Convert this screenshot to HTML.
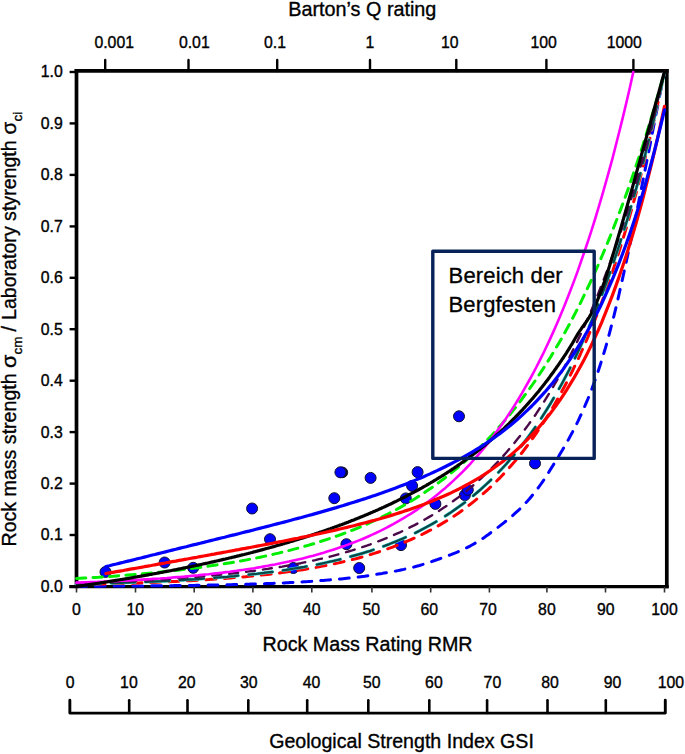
<!DOCTYPE html>
<html><head><meta charset="utf-8"><title>Rock mass strength chart</title><style>
html,body{margin:0;padding:0;background:#fff;}
body{width:685px;height:754px;overflow:hidden;}
svg{display:block;}
text{font-family:"Liberation Sans",sans-serif;fill:#000;stroke:#000;stroke-width:0.35px;}
.t15{font-size:15.8px;}
</style></head><body>
<svg width="685" height="754" viewBox="0 0 685 754">
<text x="288.3" y="15.5" font-size="19.8">Barton’s Q rating</text>
<text class="t15" transform="translate(114.2,47.8) scale(1,1.06)" text-anchor="middle">0.001</text>
<text class="t15" transform="translate(194.3,47.8) scale(1,1.06)" text-anchor="middle">0.01</text>
<text class="t15" transform="translate(275.0,47.8) scale(1,1.06)" text-anchor="middle">0.1</text>
<text class="t15" transform="translate(370.0,47.8) scale(1,1.06)" text-anchor="middle">1</text>
<text class="t15" transform="translate(449.7,47.8) scale(1,1.06)" text-anchor="middle">10</text>
<text class="t15" transform="translate(543.7,47.8) scale(1,1.06)" text-anchor="middle">100</text>
<text class="t15" transform="translate(624.3,47.8) scale(1,1.06)" text-anchor="middle">1000</text>
<text class="t15" transform="translate(62.8,591.9) scale(1,1.06)" text-anchor="end">0.0</text>
<text class="t15" transform="translate(62.8,540.4) scale(1,1.06)" text-anchor="end">0.1</text>
<text class="t15" transform="translate(62.8,489.0) scale(1,1.06)" text-anchor="end">0.2</text>
<text class="t15" transform="translate(62.8,437.6) scale(1,1.06)" text-anchor="end">0.3</text>
<text class="t15" transform="translate(62.8,386.1) scale(1,1.06)" text-anchor="end">0.4</text>
<text class="t15" transform="translate(62.8,334.7) scale(1,1.06)" text-anchor="end">0.5</text>
<text class="t15" transform="translate(62.8,283.2) scale(1,1.06)" text-anchor="end">0.6</text>
<text class="t15" transform="translate(62.8,231.8) scale(1,1.06)" text-anchor="end">0.7</text>
<text class="t15" transform="translate(62.8,180.3) scale(1,1.06)" text-anchor="end">0.8</text>
<text class="t15" transform="translate(62.8,128.8) scale(1,1.06)" text-anchor="end">0.9</text>
<text class="t15" transform="translate(62.8,77.4) scale(1,1.06)" text-anchor="end">1.0</text>
<text class="t15" transform="translate(76.5,614.7) scale(1,1.06)" text-anchor="middle">0</text>
<text class="t15" transform="translate(135.3,614.7) scale(1,1.06)" text-anchor="middle">10</text>
<text class="t15" transform="translate(194.1,614.7) scale(1,1.06)" text-anchor="middle">20</text>
<text class="t15" transform="translate(252.9,614.7) scale(1,1.06)" text-anchor="middle">30</text>
<text class="t15" transform="translate(311.7,614.7) scale(1,1.06)" text-anchor="middle">40</text>
<text class="t15" transform="translate(371.3,614.7) scale(1,1.06)" text-anchor="middle">50</text>
<text class="t15" transform="translate(429.3,614.7) scale(1,1.06)" text-anchor="middle">60</text>
<text class="t15" transform="translate(488.1,614.7) scale(1,1.06)" text-anchor="middle">70</text>
<text class="t15" transform="translate(546.9,614.7) scale(1,1.06)" text-anchor="middle">80</text>
<text class="t15" transform="translate(605.7,614.7) scale(1,1.06)" text-anchor="middle">90</text>
<text class="t15" transform="translate(664.5,614.7) scale(1,1.06)" text-anchor="middle">100</text>
<text x="367.5" y="651.3" font-size="19.7" text-anchor="middle">Rock Mass Rating RMR</text>
<text class="t15" transform="translate(70.1,688.0) scale(1,1.06)" text-anchor="middle">0</text>
<text class="t15" transform="translate(128.9,688.0) scale(1,1.06)" text-anchor="middle">10</text>
<text class="t15" transform="translate(186.8,688.0) scale(1,1.06)" text-anchor="middle">20</text>
<text class="t15" transform="translate(248.8,688.0) scale(1,1.06)" text-anchor="middle">30</text>
<text class="t15" transform="translate(311.6,688.0) scale(1,1.06)" text-anchor="middle">40</text>
<text class="t15" transform="translate(371.7,688.0) scale(1,1.06)" text-anchor="middle">50</text>
<text class="t15" transform="translate(433.9,688.0) scale(1,1.06)" text-anchor="middle">60</text>
<text class="t15" transform="translate(492.4,688.0) scale(1,1.06)" text-anchor="middle">70</text>
<text class="t15" transform="translate(550.0,688.0) scale(1,1.06)" text-anchor="middle">80</text>
<text class="t15" transform="translate(612.5,688.0) scale(1,1.06)" text-anchor="middle">90</text>
<text class="t15" transform="translate(670.8,688.0) scale(1,1.06)" text-anchor="middle">100</text>
<text x="401.5" y="747.6" font-size="19.6" text-anchor="middle">Geological Strength Index GSI</text>
<text transform="translate(16,546.5) rotate(-90) translate(0,0)" font-size="19.6">Rock mass strength</text>
<text transform="translate(16,546.5) rotate(-90) translate(178.5,0) scale(1.1,1)" font-size="19.6">σ</text>
<text transform="translate(16,546.5) rotate(-90) translate(192,6)" font-size="13.5">cm</text>
<text transform="translate(16,546.5) rotate(-90) translate(215,0)" font-size="19.6">/</text>
<text transform="translate(16,546.5) rotate(-90) translate(226.5,0)" font-size="19.6">Laboratory styrength</text>
<text transform="translate(16,546.5) rotate(-90) translate(412,0) scale(1.05,1)" font-size="19.6">σ</text>
<text transform="translate(16,546.5) rotate(-90) translate(425.1,6)" font-size="13.5">ci</text>
<g stroke="#000" fill="none">
<path d="M76.5,69 V588.3" stroke-width="3.7"/>
<path d="M74.65,70.8 H668.65" stroke-width="3.8"/>
<path d="M666.8,69 V588.3" stroke-width="3.7"/>
<path d="M69.3,586.6 H668.65" stroke-width="3.4"/>
<path d="M69.6,586.5 H77" stroke-width="2.4"/>
<path d="M69.6,535.0 H77" stroke-width="2.4"/>
<path d="M69.6,483.6 H77" stroke-width="2.4"/>
<path d="M69.6,432.1 H77" stroke-width="2.4"/>
<path d="M69.6,380.7 H77" stroke-width="2.4"/>
<path d="M69.6,329.2 H77" stroke-width="2.4"/>
<path d="M69.6,277.8 H77" stroke-width="2.4"/>
<path d="M69.6,226.4 H77" stroke-width="2.4"/>
<path d="M69.6,174.9 H77" stroke-width="2.4"/>
<path d="M69.6,123.4 H77" stroke-width="2.4"/>
<path d="M69.6,72.0 H77" stroke-width="2.4"/>
<path d="M105.2,60 V71" stroke-width="2.4" stroke-linecap="round"/>
<path d="M188.5,60 V71" stroke-width="2.4" stroke-linecap="round"/>
<path d="M277.2,60 V71" stroke-width="2.4" stroke-linecap="round"/>
<path d="M370.0,60 V71" stroke-width="2.4" stroke-linecap="round"/>
<path d="M456.3,60 V71" stroke-width="2.4" stroke-linecap="round"/>
<path d="M546.4,60 V71" stroke-width="2.4" stroke-linecap="round"/>
<path d="M633.4,60 V71" stroke-width="2.4" stroke-linecap="round"/>
<path d="M76.5,587 V592.5" stroke-width="1.6" stroke="#333"/>
<path d="M135.5,587 V592.5" stroke-width="1.6" stroke="#333"/>
<path d="M194.2,587 V592.5" stroke-width="1.6" stroke="#333"/>
<path d="M252.9,587 V592.5" stroke-width="1.6" stroke="#333"/>
<path d="M311.8,587 V592.5" stroke-width="1.6" stroke="#333"/>
<path d="M371.9,587 V592.5" stroke-width="1.6" stroke="#333"/>
<path d="M430.7,587 V592.5" stroke-width="1.6" stroke="#333"/>
<path d="M489.4,587 V592.5" stroke-width="1.6" stroke="#333"/>
<path d="M546.9,587 V592.5" stroke-width="1.6" stroke="#333"/>
<path d="M605.5,587 V592.5" stroke-width="1.6" stroke="#333"/>
<path d="M664.5,587 V592.5" stroke-width="1.6" stroke="#333"/>
<path d="M69.85,700.2 V713.1 H665.3 V700.2" stroke-width="2.9" stroke-linejoin="round" stroke-linecap="round"/>
<path d="M129.2,700.2 V713" stroke-width="2.6" stroke-linecap="round"/>
<path d="M187.5,700.2 V713" stroke-width="2.6" stroke-linecap="round"/>
<path d="M248.3,700.2 V713" stroke-width="2.6" stroke-linecap="round"/>
<path d="M307.2,700.2 V713" stroke-width="2.6" stroke-linecap="round"/>
<path d="M368.3,700.2 V713" stroke-width="2.6" stroke-linecap="round"/>
<path d="M429.3,700.2 V713" stroke-width="2.6" stroke-linecap="round"/>
<path d="M487.1,700.2 V713" stroke-width="2.6" stroke-linecap="round"/>
<path d="M547.5,700.2 V713" stroke-width="2.6" stroke-linecap="round"/>
<path d="M605.8,700.2 V713" stroke-width="2.6" stroke-linecap="round"/>
</g>
<g fill="#0000ff" stroke="#101030" stroke-width="1">
<circle cx="342.4" cy="472.4" r="5.3" fill="#101020"/>
<circle cx="340.4" cy="472.3" r="5.5"/>
<circle cx="105.5" cy="571.9" r="5.5"/>
<circle cx="164.6" cy="562.5" r="5.5"/>
<circle cx="193.2" cy="567.8" r="5.5"/>
<circle cx="252.1" cy="508.5" r="5.5"/>
<circle cx="270" cy="539.2" r="5.5"/>
<circle cx="293.3" cy="568" r="5.5"/>
<circle cx="334.3" cy="498.2" r="5.5"/>
<circle cx="346.4" cy="544.2" r="5.5"/>
<circle cx="359.2" cy="568" r="5.5"/>
<circle cx="370.6" cy="477.9" r="5.5"/>
<circle cx="401" cy="545.1" r="5.5"/>
<circle cx="405.8" cy="498.4" r="5.5"/>
<circle cx="412.1" cy="485.9" r="5.5"/>
<circle cx="417.6" cy="472.1" r="5.5"/>
<circle cx="435.4" cy="503.9" r="5.5"/>
<circle cx="459" cy="416.3" r="5.5"/>
<circle cx="464.9" cy="495.1" r="5.5"/>
<circle cx="467.8" cy="489.8" r="5.5"/>
<circle cx="535" cy="463.4" r="5.5"/>
</g>
<g fill="none" stroke-linejoin="round" stroke-linecap="round">
<path d="M76.5,586.3 L77.5,586.3 L78.7,586.2 L80.0,586.2 L81.4,586.2 L82.9,586.2 L84.5,586.2 L86.2,586.2 L88.0,586.2 L89.8,586.2 L91.7,586.2 L93.7,586.2 L95.8,586.2 L97.9,586.2 L100.0,586.2 L102.2,586.2 L104.4,586.1 L106.7,586.1 L109.0,586.1 L111.2,586.1 L113.5,586.1 L115.8,586.1 L118.1,586.1 L120.4,586.1 L122.6,586.1 L124.8,586.0 L127.0,586.0 L129.2,586.0 L131.3,586.0 L133.3,586.0 L135.3,586.0 L137.3,586.0 L139.2,585.9 L141.2,585.9 L143.1,585.9 L145.1,585.9 L147.1,585.9 L149.0,585.9 L151.0,585.9 L152.9,585.8 L154.9,585.8 L156.9,585.8 L158.8,585.8 L160.8,585.8 L162.7,585.8 L164.7,585.7 L166.7,585.7 L168.6,585.7 L170.6,585.7 L172.5,585.7 L174.5,585.6 L176.5,585.6 L178.4,585.6 L180.4,585.6 L182.3,585.5 L184.3,585.5 L186.3,585.5 L188.2,585.5 L190.2,585.4 L192.1,585.4 L194.1,585.4 L196.1,585.3 L198.0,585.3 L200.0,585.3 L201.9,585.2 L203.9,585.2 L205.9,585.2 L207.8,585.1 L209.8,585.1 L211.7,585.1 L213.7,585.0 L215.7,585.0 L217.6,585.0 L219.6,584.9 L221.5,584.9 L223.5,584.9 L225.5,584.8 L227.4,584.8 L229.4,584.7 L231.3,584.7 L233.3,584.6 L235.3,584.6 L237.2,584.5 L239.2,584.5 L241.1,584.4 L243.1,584.4 L245.1,584.3 L247.0,584.3 L249.0,584.2 L250.9,584.1 L252.9,584.1 L254.9,584.0 L256.8,583.9 L258.8,583.9 L260.7,583.8 L262.7,583.7 L264.7,583.7 L266.6,583.6 L268.6,583.5 L270.5,583.4 L272.5,583.4 L274.5,583.3 L276.4,583.2 L278.4,583.1 L280.3,583.1 L282.3,583.0 L284.3,582.9 L286.2,582.8 L288.2,582.7 L290.1,582.6 L292.1,582.5 L294.1,582.4 L296.0,582.3 L298.0,582.2 L299.9,582.1 L301.9,581.9 L303.9,581.8 L305.8,581.7 L307.8,581.6 L309.7,581.4 L311.7,581.3 L313.7,581.1 L315.6,581.0 L317.6,580.8 L319.5,580.7 L321.5,580.5 L323.5,580.4 L325.4,580.2 L327.4,580.1 L329.3,579.9 L331.3,579.8 L333.3,579.6 L335.2,579.4 L337.2,579.3 L339.1,579.1 L341.1,578.9 L343.1,578.7 L345.0,578.5 L347.0,578.3 L348.9,578.1 L350.9,577.9 L352.9,577.7 L354.8,577.5 L356.8,577.2 L358.7,577.0 L360.7,576.7 L362.7,576.4 L364.6,576.2 L366.6,575.9 L368.5,575.6 L370.5,575.3 L372.5,575.0 L374.4,574.6 L376.4,574.3 L378.3,574.0 L380.3,573.7 L382.3,573.4 L384.2,573.0 L386.2,572.7 L388.1,572.4 L390.1,572.0 L392.1,571.7 L394.0,571.3 L396.0,571.0 L397.9,570.6 L399.9,570.2 L401.9,569.8 L403.8,569.4 L405.8,568.9 L407.7,568.5 L409.7,568.0 L411.7,567.6 L413.6,567.1 L415.6,566.5 L417.5,566.0 L419.5,565.5 L421.5,564.9 L423.4,564.3 L425.4,563.7 L427.3,563.0 L429.3,562.4 L431.3,561.7 L433.2,561.0 L435.2,560.3 L437.1,559.7 L439.1,559.0 L441.1,558.3 L443.0,557.6 L445.0,556.9 L446.9,556.2 L448.9,555.4 L450.9,554.7 L452.8,553.9 L454.8,553.1 L456.7,552.3 L458.7,551.4 L460.7,550.6 L462.6,549.7 L464.6,548.7 L466.5,547.8 L468.5,546.8 L470.5,545.8 L472.4,544.7 L474.4,543.6 L476.3,542.5 L478.3,541.3 L480.3,540.1 L482.2,538.8 L484.2,537.5 L486.1,536.1 L488.1,534.7 L490.1,533.2 L492.0,531.8 L494.0,530.3 L495.9,528.8 L497.9,527.4 L499.9,525.9 L501.8,524.4 L503.8,522.8 L505.7,521.3 L507.7,519.7 L509.7,518.1 L511.6,516.4 L513.6,514.7 L515.5,512.9 L517.5,511.1 L519.5,509.3 L521.4,507.4 L523.4,505.4 L525.3,503.3 L527.3,501.2 L529.3,499.0 L531.2,496.7 L533.2,494.3 L535.1,491.9 L537.1,489.3 L539.1,486.7 L541.0,484.0 L543.0,481.1 L544.9,478.2 L546.9,475.1 L548.9,472.0 L550.8,468.9 L552.8,465.7 L554.7,462.6 L556.7,459.4 L558.7,456.2 L560.6,453.0 L562.6,449.7 L564.5,446.4 L566.5,442.9 L568.5,439.5 L570.4,435.9 L572.4,432.2 L574.3,428.4 L576.3,424.6 L578.3,420.6 L580.2,416.4 L582.2,412.2 L584.1,407.8 L586.1,403.2 L588.1,398.5 L590.0,393.6 L592.0,388.5 L593.9,383.2 L595.9,377.7 L597.9,372.0 L599.8,366.2 L601.8,360.0 L603.7,353.7 L605.7,347.1 L607.7,340.1 L609.7,332.4 L611.8,324.3 L614.0,315.7 L616.2,306.6 L618.4,297.1 L620.6,287.2 L622.9,277.1 L625.2,266.7 L627.5,256.1 L629.8,245.3 L632.0,234.4 L634.3,223.5 L636.6,212.5 L638.8,201.5 L641.0,190.7 L643.1,179.9 L645.2,169.3 L647.3,158.9 L649.3,148.8 L651.2,138.9 L653.0,129.5 L654.8,120.4 L656.5,111.8 L658.1,103.6 L659.6,96.0 L661.0,89.0 L662.3,82.7 L663.5,77.0 L664.5,72.0" stroke="#0000ff" stroke-width="3" stroke-dasharray="9.8 9"/>
<path d="M76.5,584.5 L80.2,584.4 L83.8,584.4 L87.5,584.3 L91.2,584.2 L94.9,584.1 L98.5,584.1 L102.2,584.0 L105.9,583.9 L109.6,583.8 L113.2,583.7 L116.9,583.6 L120.6,583.5 L124.3,583.4 L127.9,583.3 L131.6,583.2 L135.3,583.0 L139.0,582.9 L142.7,582.8 L146.3,582.7 L150.0,582.5 L153.7,582.4 L157.3,582.2 L161.0,582.1 L164.7,581.9 L168.4,581.8 L172.1,581.6 L175.7,581.4 L179.4,581.2 L183.1,581.1 L186.8,580.9 L190.4,580.7 L194.1,580.5 L197.8,580.2 L201.4,580.0 L205.1,579.8 L208.8,579.6 L212.5,579.3 L216.2,579.1 L219.8,578.8 L223.5,578.5 L227.2,578.2 L230.8,577.9 L234.5,577.6 L238.2,577.3 L241.9,577.0 L245.5,576.7 L249.2,576.3 L252.9,576.0 L256.6,575.6 L260.2,575.2 L263.9,574.8 L267.6,574.4 L271.3,574.0 L274.9,573.5 L278.6,573.1 L282.3,572.6 L286.0,572.1 L289.6,571.6 L293.3,571.1 L297.0,570.5 L300.7,570.0 L304.4,569.4 L308.0,568.8 L311.7,568.1 L315.4,567.5 L319.0,566.8 L322.7,566.1 L326.4,565.4 L330.1,564.7 L333.8,563.9 L337.4,563.1 L341.1,562.3 L344.8,561.4 L348.4,560.5 L352.1,559.6 L355.8,558.7 L359.5,557.7 L363.1,556.7 L366.8,555.6 L370.5,554.5 L374.2,553.4 L377.9,552.2 L381.5,551.0 L385.2,549.7 L388.9,548.4 L392.6,547.1 L396.2,545.7 L399.9,544.3 L403.6,542.8 L407.2,541.2 L410.9,539.6 L414.6,538.0 L418.3,536.3 L421.9,534.5 L425.6,532.6 L429.3,530.7 L433.0,528.8 L436.6,526.7 L440.3,524.6 L444.0,522.4 L447.7,520.2 L451.3,517.8 L455.0,515.4 L458.7,512.9 L462.4,510.3 L466.1,507.6 L469.7,504.8 L473.4,501.9 L477.1,498.9 L480.8,495.8 L484.4,492.6 L488.1,489.3 L491.8,485.9 L495.4,482.3 L499.1,478.7 L502.8,474.8 L506.5,470.9 L510.1,466.8 L513.8,462.6 L517.5,458.2 L521.2,453.7 L524.8,449.0 L528.5,444.1 L532.2,439.1 L535.9,433.9 L539.5,428.5 L543.2,422.9 L546.9,417.1 L550.6,411.1 L554.2,405.0 L557.9,398.5 L561.6,391.9 L565.3,385.0 L569.0,377.9 L572.6,370.5 L576.3,362.9 L580.0,355.0 L583.6,346.8 L587.3,338.4 L591.0,329.6 L594.7,320.5 L598.4,311.1 L602.0,301.4 L605.7,291.3 L609.4,280.9 L613.0,270.1 L616.7,258.9 L620.4,247.3 L624.1,235.3 L627.8,222.9 L631.4,210.1 L635.1,196.8 L638.8,183.0 L642.5,168.8 L646.1,154.0 L649.8,138.7 L653.5,122.9 L657.1,106.5 L660.8,89.6 L664.5,72.0" stroke="#ff0000" stroke-width="3" stroke-dasharray="10 8.5"/>
<path d="M76.5,584.0 L80.2,583.9 L83.8,583.8 L87.5,583.8 L91.2,583.7 L94.9,583.6 L98.5,583.5 L102.2,583.4 L105.9,583.3 L109.6,583.1 L113.2,583.0 L116.9,582.9 L120.6,582.8 L124.3,582.7 L127.9,582.5 L131.6,582.4 L135.3,582.3 L139.0,582.1 L142.7,582.0 L146.3,581.8 L150.0,581.7 L153.7,581.5 L157.3,581.3 L161.0,581.2 L164.7,581.0 L168.4,580.8 L172.1,580.6 L175.7,580.4 L179.4,580.2 L183.1,580.0 L186.8,579.7 L190.4,579.5 L194.1,579.3 L197.8,579.0 L201.4,578.8 L205.1,578.5 L208.8,578.3 L212.5,578.0 L216.2,577.7 L219.8,577.4 L223.5,577.1 L227.2,576.8 L230.8,576.4 L234.5,576.1 L238.2,575.7 L241.9,575.4 L245.5,575.0 L249.2,574.6 L252.9,574.2 L256.6,573.8 L260.2,573.3 L263.9,572.9 L267.6,572.4 L271.3,572.0 L274.9,571.5 L278.6,571.0 L282.3,570.4 L286.0,569.9 L289.6,569.3 L293.3,568.7 L297.0,568.1 L300.7,567.5 L304.4,566.9 L308.0,566.2 L311.7,565.5 L315.4,564.8 L319.0,564.1 L322.7,563.3 L326.4,562.5 L330.1,561.7 L333.8,560.9 L337.4,560.0 L341.1,559.1 L344.8,558.2 L348.4,557.2 L352.1,556.2 L355.8,555.2 L359.5,554.2 L363.1,553.1 L366.8,551.9 L370.5,550.8 L374.2,549.5 L377.9,548.3 L381.5,547.0 L385.2,545.7 L388.9,544.3 L392.6,542.8 L396.2,541.4 L399.9,539.8 L403.6,538.2 L407.2,536.6 L410.9,534.9 L414.6,533.2 L418.3,531.4 L421.9,529.5 L425.6,527.6 L429.3,525.6 L433.0,523.5 L436.6,521.4 L440.3,519.2 L444.0,516.9 L447.7,514.5 L451.3,512.1 L455.0,509.5 L458.7,506.9 L462.4,504.2 L466.1,501.5 L469.7,498.6 L473.4,495.6 L477.1,492.5 L480.8,489.3 L484.4,486.0 L488.1,482.6 L491.8,479.1 L495.4,475.5 L499.1,471.7 L502.8,467.8 L506.5,463.8 L510.1,459.6 L513.8,455.3 L517.5,450.9 L521.2,446.3 L524.8,441.5 L528.5,436.6 L532.2,431.5 L535.9,426.3 L539.5,420.9 L543.2,415.2 L546.9,409.4 L550.6,403.4 L554.2,397.2 L557.9,390.8 L561.6,384.2 L565.3,377.3 L569.0,370.2 L572.6,362.9 L576.3,355.3 L580.0,347.5 L583.6,339.4 L587.3,331.0 L591.0,322.3 L594.7,313.4 L598.4,304.1 L602.0,294.6 L605.7,284.7 L609.4,274.4 L613.0,263.9 L616.7,252.9 L620.4,241.6 L624.1,229.9 L627.8,217.8 L631.4,205.3 L635.1,192.4 L638.8,179.1 L642.5,165.3 L646.1,151.0 L649.8,136.2 L653.5,121.0 L657.1,105.2 L660.8,88.9 L664.5,72.0" stroke="#40d8d8" stroke-width="3.3" stroke-dasharray="24 10.5"/>
<path d="M76.5,584.0 L80.2,583.9 L83.8,583.8 L87.5,583.8 L91.2,583.7 L94.9,583.6 L98.5,583.5 L102.2,583.4 L105.9,583.3 L109.6,583.1 L113.2,583.0 L116.9,582.9 L120.6,582.8 L124.3,582.7 L127.9,582.5 L131.6,582.4 L135.3,582.3 L139.0,582.1 L142.7,582.0 L146.3,581.8 L150.0,581.7 L153.7,581.5 L157.3,581.3 L161.0,581.2 L164.7,581.0 L168.4,580.8 L172.1,580.6 L175.7,580.4 L179.4,580.2 L183.1,580.0 L186.8,579.7 L190.4,579.5 L194.1,579.3 L197.8,579.0 L201.4,578.8 L205.1,578.5 L208.8,578.3 L212.5,578.0 L216.2,577.7 L219.8,577.4 L223.5,577.1 L227.2,576.8 L230.8,576.4 L234.5,576.1 L238.2,575.7 L241.9,575.4 L245.5,575.0 L249.2,574.6 L252.9,574.2 L256.6,573.8 L260.2,573.3 L263.9,572.9 L267.6,572.4 L271.3,572.0 L274.9,571.5 L278.6,571.0 L282.3,570.4 L286.0,569.9 L289.6,569.3 L293.3,568.7 L297.0,568.1 L300.7,567.5 L304.4,566.9 L308.0,566.2 L311.7,565.5 L315.4,564.8 L319.0,564.1 L322.7,563.3 L326.4,562.5 L330.1,561.7 L333.8,560.9 L337.4,560.0 L341.1,559.1 L344.8,558.2 L348.4,557.2 L352.1,556.2 L355.8,555.2 L359.5,554.2 L363.1,553.1 L366.8,551.9 L370.5,550.8 L374.2,549.5 L377.9,548.3 L381.5,547.0 L385.2,545.7 L388.9,544.3 L392.6,542.8 L396.2,541.4 L399.9,539.8 L403.6,538.2 L407.2,536.6 L410.9,534.9 L414.6,533.2 L418.3,531.4 L421.9,529.5 L425.6,527.6 L429.3,525.6 L433.0,523.5 L436.6,521.4 L440.3,519.2 L444.0,516.9 L447.7,514.5 L451.3,512.1 L455.0,509.5 L458.7,506.9 L462.4,504.2 L466.1,501.5 L469.7,498.6 L473.4,495.6 L477.1,492.5 L480.8,489.3 L484.4,486.0 L488.1,482.6 L491.8,479.1 L495.4,475.5 L499.1,471.7 L502.8,467.8 L506.5,463.8 L510.1,459.6 L513.8,455.3 L517.5,450.9 L521.2,446.3 L524.8,441.5 L528.5,436.6 L532.2,431.5 L535.9,426.3 L539.5,420.9 L543.2,415.2 L546.9,409.4 L550.6,403.4 L554.2,397.2 L557.9,390.8 L561.6,384.2 L565.3,377.3 L569.0,370.2 L572.6,362.9 L576.3,355.3 L580.0,347.5 L583.6,339.4 L587.3,331.0 L591.0,322.3 L594.7,313.4 L598.4,304.1 L602.0,294.6 L605.7,284.7 L609.4,274.4 L613.0,263.9 L616.7,252.9 L620.4,241.6 L624.1,229.9 L627.8,217.8 L631.4,205.3 L635.1,192.4 L638.8,179.1 L642.5,165.3 L646.1,151.0 L649.8,136.2 L653.5,121.0 L657.1,105.2 L660.8,88.9 L664.5,72.0" stroke="#0a4848" stroke-width="2.3" stroke-dasharray="24 10.5"/>
<path d="M76.5,583.0 L80.2,582.9 L83.8,582.8 L87.5,582.7 L91.2,582.6 L94.9,582.4 L98.5,582.3 L102.2,582.2 L105.9,582.0 L109.6,581.9 L113.2,581.8 L116.9,581.6 L120.6,581.5 L124.3,581.3 L127.9,581.1 L131.6,581.0 L135.3,580.8 L139.0,580.6 L142.7,580.4 L146.3,580.2 L150.0,580.0 L153.7,579.8 L157.3,579.6 L161.0,579.4 L164.7,579.2 L168.4,578.9 L172.1,578.7 L175.7,578.4 L179.4,578.2 L183.1,577.9 L186.8,577.6 L190.4,577.4 L194.1,577.1 L197.8,576.8 L201.4,576.5 L205.1,576.2 L208.8,575.8 L212.5,575.5 L216.2,575.1 L219.8,574.8 L223.5,574.4 L227.2,574.0 L230.8,573.6 L234.5,573.2 L238.2,572.8 L241.9,572.4 L245.5,571.9 L249.2,571.4 L252.9,571.0 L256.6,570.5 L260.2,570.0 L263.9,569.4 L267.6,568.9 L271.3,568.3 L274.9,567.8 L278.6,567.2 L282.3,566.6 L286.0,565.9 L289.6,565.3 L293.3,564.6 L297.0,563.9 L300.7,563.2 L304.4,562.4 L308.0,561.7 L311.7,560.9 L315.4,560.1 L319.0,559.2 L322.7,558.4 L326.4,557.5 L330.1,556.6 L333.8,555.6 L337.4,554.6 L341.1,553.6 L344.8,552.6 L348.4,551.5 L352.1,550.4 L355.8,549.2 L359.5,548.0 L363.1,546.8 L366.8,545.6 L370.5,544.3 L374.2,542.9 L377.9,541.5 L381.5,540.1 L385.2,538.6 L388.9,537.1 L392.6,535.6 L396.2,533.9 L399.9,532.3 L403.6,530.6 L407.2,528.8 L410.9,526.9 L414.6,525.1 L418.3,523.1 L421.9,521.1 L425.6,519.0 L429.3,516.9 L433.0,514.7 L436.6,512.4 L440.3,510.0 L444.0,507.6 L447.7,505.1 L451.3,502.5 L455.0,499.8 L458.7,497.1 L462.4,494.3 L466.1,491.3 L469.7,488.3 L473.4,485.2 L477.1,482.0 L480.8,478.7 L484.4,475.2 L488.1,471.7 L491.8,468.1 L495.4,464.3 L499.1,460.4 L502.8,456.4 L506.5,452.3 L510.1,448.0 L513.8,443.6 L517.5,439.1 L521.2,434.4 L524.8,429.6 L528.5,424.6 L532.2,419.5 L535.9,414.2 L539.5,408.7 L543.2,403.0 L546.9,397.2 L550.6,391.2 L554.2,385.0 L557.9,378.6 L561.6,372.0 L565.3,365.2 L569.0,358.2 L572.6,350.9 L576.3,343.5 L580.0,335.8 L583.6,327.8 L587.3,319.6 L591.0,311.1 L594.7,302.4 L598.4,293.3 L602.0,284.0 L605.7,274.4 L609.4,264.5 L613.0,254.3 L616.7,243.8 L620.4,232.9 L624.1,221.7 L627.8,210.1 L631.4,198.1 L635.1,185.8 L638.8,173.1 L642.5,160.0 L646.1,146.4 L649.8,132.5 L653.5,118.0 L657.1,103.2 L660.8,87.8 L664.5,72.0" stroke="#4a0a4a" stroke-width="2.4" stroke-dasharray="9 8"/>
<path d="M76.5,578.5 L80.2,578.3 L83.8,578.1 L87.5,577.9 L91.2,577.6 L94.9,577.4 L98.5,577.2 L102.2,576.9 L105.9,576.7 L109.6,576.4 L113.2,576.2 L116.9,575.9 L120.6,575.6 L124.3,575.3 L127.9,575.0 L131.6,574.7 L135.3,574.4 L139.0,574.1 L142.7,573.8 L146.3,573.4 L150.0,573.1 L153.7,572.7 L157.3,572.4 L161.0,572.0 L164.7,571.6 L168.4,571.2 L172.1,570.8 L175.7,570.4 L179.4,570.0 L183.1,569.5 L186.8,569.1 L190.4,568.6 L194.1,568.1 L197.8,567.7 L201.4,567.2 L205.1,566.7 L208.8,566.1 L212.5,565.6 L216.2,565.0 L219.8,564.5 L223.5,563.9 L227.2,563.3 L230.8,562.7 L234.5,562.1 L238.2,561.4 L241.9,560.8 L245.5,560.1 L249.2,559.4 L252.9,558.7 L256.6,557.9 L260.2,557.2 L263.9,556.4 L267.6,555.6 L271.3,554.8 L274.9,553.9 L278.6,553.1 L282.3,552.2 L286.0,551.3 L289.6,550.4 L293.3,549.4 L297.0,548.4 L300.7,547.4 L304.4,546.4 L308.0,545.4 L311.7,544.3 L315.4,543.2 L319.0,542.0 L322.7,540.8 L326.4,539.6 L330.1,538.4 L333.8,537.1 L337.4,535.8 L341.1,534.5 L344.8,533.1 L348.4,531.7 L352.1,530.3 L355.8,528.8 L359.5,527.3 L363.1,525.7 L366.8,524.1 L370.5,522.4 L374.2,520.7 L377.9,519.0 L381.5,517.2 L385.2,515.4 L388.9,513.5 L392.6,511.6 L396.2,509.6 L399.9,507.6 L403.6,505.5 L407.2,503.4 L410.9,501.2 L414.6,498.9 L418.3,496.6 L421.9,494.3 L425.6,491.8 L429.3,489.3 L433.0,486.8 L436.6,484.1 L440.3,481.4 L444.0,478.7 L447.7,475.8 L451.3,472.9 L455.0,469.9 L458.7,466.8 L462.4,463.7 L466.1,460.4 L469.7,457.1 L473.4,453.7 L477.1,450.2 L480.8,446.6 L484.4,442.9 L488.1,439.1 L491.8,435.2 L495.4,431.2 L499.1,427.1 L502.8,422.9 L506.5,418.6 L510.1,414.2 L513.8,409.6 L517.5,405.0 L521.2,400.2 L524.8,395.2 L528.5,390.2 L532.2,385.0 L535.9,379.7 L539.5,374.2 L543.2,368.6 L546.9,362.9 L550.6,357.0 L554.2,350.9 L557.9,344.7 L561.6,338.4 L565.3,331.8 L569.0,325.1 L572.6,318.2 L576.3,311.1 L580.0,303.8 L583.6,296.4 L587.3,288.7 L591.0,280.9 L594.7,272.8 L598.4,264.5 L602.0,256.0 L605.7,247.3 L609.4,238.4 L613.0,229.2 L616.7,219.8 L620.4,210.1 L624.1,200.2 L627.8,190.0 L631.4,179.5 L635.1,168.8 L638.8,157.7 L642.5,146.4 L646.1,134.8 L649.8,122.9 L653.5,110.7 L657.1,98.1 L660.8,85.2 L664.5,72.0" stroke="#00ee00" stroke-width="3" stroke-dasharray="9.3 7.2"/>
<path d="M76.5,582.6 L80.0,582.5 L83.5,582.4 L86.9,582.3 L90.4,582.1 L93.9,582.0 L97.4,581.9 L100.9,581.7 L104.3,581.6 L107.8,581.4 L111.3,581.3 L114.8,581.1 L118.3,580.9 L121.7,580.8 L125.2,580.6 L128.7,580.4 L132.2,580.2 L135.7,580.0 L139.1,579.8 L142.6,579.6 L146.1,579.4 L149.6,579.2 L153.1,578.9 L156.5,578.7 L160.0,578.5 L163.5,578.2 L167.0,578.0 L170.5,577.7 L173.9,577.4 L177.4,577.1 L180.9,576.9 L184.4,576.6 L187.9,576.2 L191.3,575.9 L194.8,575.6 L198.3,575.3 L201.8,574.9 L205.3,574.5 L208.7,574.2 L212.2,573.8 L215.7,573.4 L219.2,573.0 L222.7,572.6 L226.1,572.1 L229.6,571.7 L233.1,571.2 L236.6,570.8 L240.1,570.3 L243.6,569.8 L247.0,569.2 L250.5,568.7 L254.0,568.2 L257.5,567.6 L261.0,567.0 L264.4,566.4 L267.9,565.8 L271.4,565.1 L274.9,564.5 L278.4,563.8 L281.8,563.1 L285.3,562.3 L288.8,561.6 L292.3,560.8 L295.8,560.0 L299.2,559.2 L302.7,558.4 L306.2,557.5 L309.7,556.6 L313.2,555.7 L316.6,554.7 L320.1,553.7 L323.6,552.7 L327.1,551.6 L330.6,550.6 L334.0,549.4 L337.5,548.3 L341.0,547.1 L344.5,545.9 L348.0,544.6 L351.4,543.3 L354.9,542.0 L358.4,540.6 L361.9,539.2 L365.4,537.7 L368.8,536.2 L372.3,534.6 L375.8,533.0 L379.3,531.3 L382.8,529.6 L386.2,527.9 L389.7,526.0 L393.2,524.2 L396.7,522.2 L400.2,520.2 L403.6,518.2 L407.1,516.0 L410.6,513.9 L414.1,511.6 L417.6,509.3 L421.0,506.9 L424.5,504.4 L428.0,501.9 L431.5,499.2 L435.0,496.5 L438.4,493.7 L441.9,490.8 L445.4,487.9 L448.9,484.8 L452.4,481.6 L455.8,478.4 L459.3,475.0 L462.8,471.6 L466.3,468.0 L469.8,464.3 L473.2,460.5 L476.7,456.6 L480.2,452.6 L483.7,448.4 L487.2,444.1 L490.6,439.7 L494.1,435.1 L497.6,430.4 L501.1,425.6 L504.6,420.6 L508.0,415.4 L511.5,410.1 L515.0,404.6 L518.5,399.0 L522.0,393.2 L525.4,387.2 L528.9,381.0 L532.4,374.6 L535.9,368.0 L539.4,361.2 L542.9,354.2 L546.3,347.0 L549.8,339.6 L553.3,331.9 L556.8,324.0 L560.3,315.8 L563.7,307.4 L567.2,298.8 L570.7,289.8 L574.2,280.6 L577.7,271.1 L581.1,261.3 L584.6,251.2 L588.1,240.8 L591.6,230.1 L595.1,219.0 L598.5,207.6 L602.0,195.8 L605.5,183.7 L609.0,171.2 L612.5,158.3 L615.9,145.0 L619.4,131.3 L622.9,117.1 L626.4,102.5 L629.9,87.5 L633.3,72.0" stroke="#ff00ff" stroke-width="2.6"/>
<path d="M76.5,586.5 L77.0,586.4 L77.6,586.3 L78.2,586.2 L78.9,586.1 L79.7,586.0 L80.5,585.9 L81.3,585.8 L82.2,585.6 L83.2,585.5 L84.1,585.4 L85.1,585.2 L86.1,585.1 L87.2,584.9 L88.3,584.7 L89.4,584.6 L90.5,584.4 L91.6,584.2 L92.7,584.1 L93.9,583.9 L95.0,583.7 L96.2,583.5 L97.3,583.4 L98.4,583.2 L99.5,583.0 L100.7,582.8 L101.8,582.7 L102.8,582.5 L103.9,582.3 L104.9,582.2 L105.9,582.0 L106.9,581.9 L107.9,581.7 L108.8,581.6 L109.8,581.4 L110.8,581.2 L111.8,581.1 L112.8,580.9 L113.7,580.8 L114.7,580.6 L115.7,580.4 L116.7,580.3 L117.7,580.1 L118.6,580.0 L119.6,579.8 L120.6,579.6 L121.6,579.5 L122.6,579.3 L123.5,579.2 L124.5,579.0 L125.5,578.8 L126.5,578.7 L127.5,578.5 L128.4,578.3 L129.4,578.2 L130.4,578.0 L131.4,577.8 L132.4,577.7 L133.3,577.5 L134.3,577.3 L135.3,577.1 L136.3,577.0 L137.3,576.8 L138.2,576.6 L139.2,576.5 L140.2,576.3 L141.2,576.1 L142.2,575.9 L143.1,575.8 L144.1,575.6 L145.1,575.4 L146.1,575.2 L147.1,575.1 L148.0,574.9 L149.0,574.7 L150.0,574.5 L151.0,574.4 L152.0,574.2 L152.9,574.0 L153.9,573.8 L154.9,573.6 L155.9,573.5 L156.9,573.3 L157.8,573.1 L158.8,572.9 L159.8,572.7 L160.8,572.5 L161.8,572.4 L162.7,572.2 L163.7,572.0 L164.7,571.8 L165.7,571.6 L166.7,571.4 L167.6,571.2 L168.6,571.0 L169.6,570.9 L170.6,570.7 L171.6,570.5 L172.5,570.3 L173.5,570.1 L174.5,569.9 L175.5,569.7 L176.5,569.5 L177.4,569.3 L178.4,569.1 L179.4,568.9 L180.4,568.7 L181.4,568.5 L182.3,568.3 L183.3,568.1 L184.3,567.9 L185.3,567.7 L186.3,567.5 L187.2,567.3 L188.2,567.1 L189.2,566.9 L190.2,566.7 L191.2,566.5 L192.1,566.3 L193.1,566.1 L194.1,565.9 L195.1,565.7 L196.1,565.5 L197.0,565.3 L198.0,565.1 L199.0,564.9 L200.0,564.7 L201.0,564.5 L201.9,564.3 L202.9,564.0 L203.9,563.8 L204.9,563.6 L205.9,563.4 L206.8,563.2 L207.8,563.0 L208.8,562.8 L209.8,562.5 L210.8,562.3 L211.7,562.1 L212.7,561.9 L213.7,561.7 L214.7,561.4 L215.7,561.2 L216.6,561.0 L217.6,560.8 L218.6,560.6 L219.6,560.3 L220.6,560.1 L221.5,559.9 L222.5,559.6 L223.5,559.4 L224.5,559.2 L225.5,559.0 L226.4,558.7 L227.4,558.5 L228.4,558.3 L229.4,558.0 L230.4,557.8 L231.3,557.6 L232.3,557.3 L233.3,557.1 L234.3,556.9 L235.3,556.6 L236.2,556.4 L237.2,556.1 L238.2,555.9 L239.2,555.7 L240.2,555.4 L241.1,555.2 L242.1,554.9 L243.1,554.7 L244.1,554.5 L245.1,554.2 L246.0,554.0 L247.0,553.7 L248.0,553.5 L249.0,553.2 L250.0,553.0 L250.9,552.7 L251.9,552.5 L252.9,552.2 L253.9,551.9 L254.9,551.7 L255.8,551.4 L256.8,551.2 L257.8,550.9 L258.8,550.7 L259.8,550.4 L260.7,550.1 L261.7,549.9 L262.7,549.6 L263.7,549.3 L264.7,549.1 L265.6,548.8 L266.6,548.5 L267.6,548.3 L268.6,548.0 L269.6,547.7 L270.5,547.5 L271.5,547.2 L272.5,546.9 L273.5,546.7 L274.5,546.4 L275.4,546.1 L276.4,545.8 L277.4,545.5 L278.4,545.3 L279.4,545.0 L280.3,544.7 L281.3,544.4 L282.3,544.1 L283.3,543.8 L284.3,543.6 L285.2,543.3 L286.2,543.0 L287.2,542.7 L288.2,542.4 L289.2,542.1 L290.1,541.8 L291.1,541.5 L292.1,541.2 L293.1,540.9 L294.1,540.6 L295.0,540.3 L296.0,540.0 L297.0,539.7 L298.0,539.4 L299.0,539.1 L299.9,538.8 L300.9,538.5 L301.9,538.2 L302.9,537.9 L303.9,537.6 L304.8,537.3 L305.8,537.0 L306.8,536.6 L307.8,536.3 L308.8,536.0 L309.7,535.7 L310.7,535.4 L311.7,535.0 L312.7,534.7 L313.7,534.4 L314.6,534.1 L315.6,533.7 L316.6,533.4 L317.6,533.1 L318.6,532.8 L319.5,532.4 L320.5,532.1 L321.5,531.8 L322.5,531.4 L323.5,531.1 L324.4,530.8 L325.4,530.4 L326.4,530.1 L327.4,529.7 L328.4,529.4 L329.3,529.0 L330.3,528.7 L331.3,528.3 L332.3,528.0 L333.3,527.6 L334.2,527.3 L335.2,526.9 L336.2,526.6 L337.2,526.2 L338.2,525.9 L339.1,525.5 L340.1,525.1 L341.1,524.8 L342.1,524.4 L343.1,524.0 L344.0,523.7 L345.0,523.3 L346.0,522.9 L347.0,522.5 L348.0,522.2 L348.9,521.8 L349.9,521.4 L350.9,521.0 L351.9,520.6 L352.9,520.2 L353.8,519.9 L354.8,519.5 L355.8,519.1 L356.8,518.7 L357.8,518.3 L358.7,517.9 L359.7,517.5 L360.7,517.1 L361.7,516.7 L362.7,516.3 L363.6,515.9 L364.6,515.5 L365.6,515.1 L366.6,514.7 L367.6,514.3 L368.5,513.8 L369.5,513.4 L370.5,513.0 L371.5,512.6 L372.5,512.2 L373.4,511.7 L374.4,511.3 L375.4,510.9 L376.4,510.4 L377.4,510.0 L378.3,509.6 L379.3,509.1 L380.3,508.7 L381.3,508.3 L382.3,507.8 L383.2,507.4 L384.2,506.9 L385.2,506.5 L386.2,506.0 L387.2,505.6 L388.1,505.1 L389.1,504.6 L390.1,504.2 L391.1,503.7 L392.1,503.3 L393.0,502.8 L394.0,502.3 L395.0,501.8 L396.0,501.4 L397.0,500.9 L397.9,500.4 L398.9,499.9 L399.9,499.4 L400.9,498.9 L401.9,498.4 L402.8,498.0 L403.8,497.5 L404.8,497.0 L405.8,496.5 L406.8,496.0 L407.7,495.4 L408.7,494.9 L409.7,494.4 L410.7,493.9 L411.7,493.4 L412.6,492.9 L413.6,492.4 L414.6,491.8 L415.6,491.3 L416.6,490.8 L417.5,490.2 L418.5,489.7 L419.5,489.2 L420.5,488.6 L421.5,488.1 L422.4,487.5 L423.4,487.0 L424.4,486.4 L425.4,485.9 L426.4,485.3 L427.3,484.7 L428.3,484.2 L429.3,483.6 L430.3,483.0 L431.3,482.4 L432.2,481.9 L433.2,481.3 L434.2,480.7 L435.2,480.1 L436.2,479.5 L437.1,478.9 L438.1,478.3 L439.1,477.7 L440.1,477.1 L441.1,476.5 L442.0,475.9 L443.0,475.3 L444.0,474.7 L445.0,474.0 L446.0,473.4 L446.9,472.8 L447.9,472.1 L448.9,471.5 L449.9,470.9 L450.9,470.2 L451.8,469.6 L452.8,468.9 L453.8,468.3 L454.8,467.6 L455.8,466.9 L456.7,466.3 L457.7,465.6 L458.7,464.9 L459.7,464.2 L460.7,463.5 L461.6,462.8 L462.6,462.1 L463.6,461.4 L464.6,460.7 L465.6,460.0 L466.5,459.3 L467.5,458.6 L468.5,457.9 L469.5,457.1 L470.5,456.4 L471.4,455.7 L472.4,455.0 L473.4,454.2 L474.4,453.5 L475.4,452.7 L476.3,452.0 L477.3,451.2 L478.3,450.4 L479.3,449.7 L480.3,448.9 L481.2,448.1 L482.2,447.3 L483.2,446.5 L484.2,445.7 L485.2,444.9 L486.1,444.1 L487.1,443.3 L488.1,442.4 L489.1,441.6 L490.1,440.8 L491.0,439.9 L492.0,439.1 L493.0,438.2 L494.0,437.4 L495.0,436.5 L495.9,435.7 L496.9,434.8 L497.9,433.9 L498.9,433.0 L499.9,432.2 L500.8,431.3 L501.8,430.4 L502.8,429.5 L503.8,428.6 L504.8,427.6 L505.7,426.7 L506.7,425.8 L507.7,424.8 L508.7,423.9 L509.7,422.9 L510.6,422.0 L511.6,421.0 L512.6,420.0 L513.6,419.0 L514.6,418.0 L515.5,417.0 L516.5,416.0 L517.5,415.0 L518.5,414.0 L519.5,412.9 L520.4,411.9 L521.4,410.8 L522.4,409.8 L523.4,408.7 L524.4,407.7 L525.3,406.6 L526.3,405.5 L527.3,404.4 L528.3,403.3 L529.3,402.2 L530.2,401.1 L531.2,400.0 L532.2,398.9 L533.2,397.8 L534.2,396.6 L535.1,395.5 L536.1,394.3 L537.1,393.1 L538.1,391.9 L539.1,390.7 L540.0,389.5 L541.0,388.3 L542.0,387.1 L543.0,385.8 L544.0,384.6 L544.9,383.3 L545.9,382.0 L546.9,380.7 L547.9,379.4 L548.9,378.1 L549.8,376.8 L550.8,375.4 L551.8,374.1 L552.8,372.7 L553.8,371.4 L554.7,370.0 L555.7,368.7 L556.7,367.3 L557.7,365.9 L558.7,364.5 L559.6,363.1 L560.6,361.6 L561.6,360.2 L562.6,358.7 L563.6,357.3 L564.5,355.8 L565.5,354.3 L566.5,352.8 L567.5,351.2 L568.5,349.7 L569.4,348.1 L570.4,346.5 L571.4,344.9 L572.4,343.3 L573.4,341.6 L574.3,340.0 L575.3,338.3 L576.3,336.6 L577.3,334.9 L578.2,333.4 L579.1,332.0 L580.0,330.6 L580.9,329.4 L581.7,328.1 L582.5,327.0 L583.4,325.8 L584.2,324.7 L585.0,323.5 L585.8,322.4 L586.6,321.2 L587.5,320.0 L588.3,318.7 L589.2,317.3 L590.0,315.9 L590.9,314.3 L591.8,312.6 L592.8,310.8 L593.7,308.8 L594.7,306.7 L595.8,304.4 L596.8,301.9 L597.9,299.2 L599.1,296.3 L600.3,293.1 L601.6,289.7 L602.9,286.0 L604.3,282.1 L605.7,277.8 L607.2,273.1 L608.9,267.9 L610.7,262.2 L612.5,256.1 L614.5,249.6 L616.5,242.8 L618.6,235.6 L620.8,228.1 L623.0,220.4 L625.3,212.5 L627.6,204.4 L629.9,196.2 L632.3,187.9 L634.6,179.6 L636.9,171.2 L639.3,162.9 L641.5,154.7 L643.8,146.6 L646.0,138.6 L648.2,130.8 L650.3,123.2 L652.3,116.0 L654.2,109.0 L656.0,102.3 L657.8,96.1 L659.4,90.3 L660.9,84.9 L662.2,80.0 L663.4,75.7 L664.5,72.0" stroke="#000000" stroke-width="3.2"/>
<path d="M105.9,573.5 L109.4,572.9 L112.9,572.3 L116.4,571.7 L119.9,571.1 L123.4,570.5 L126.8,569.8 L130.3,569.2 L133.8,568.6 L137.3,568.0 L140.8,567.4 L144.3,566.7 L147.8,566.1 L151.3,565.5 L154.8,564.8 L158.3,564.2 L161.8,563.6 L165.3,563.0 L168.7,562.3 L172.2,561.7 L175.7,561.1 L179.2,560.4 L182.7,559.8 L186.2,559.2 L189.7,558.5 L193.2,557.9 L196.7,557.3 L200.2,556.6 L203.7,556.0 L207.1,555.4 L210.6,554.7 L214.1,554.1 L217.6,553.4 L221.1,552.8 L224.6,552.2 L228.1,551.5 L231.6,550.9 L235.1,550.2 L238.6,549.6 L242.1,548.9 L245.5,548.3 L249.0,547.7 L252.5,547.0 L256.0,546.3 L259.5,545.7 L263.0,545.0 L266.5,544.4 L270.0,543.7 L273.5,543.0 L277.0,542.3 L280.5,541.7 L284.0,541.0 L287.4,540.3 L290.9,539.6 L294.4,538.9 L297.9,538.2 L301.4,537.4 L304.9,536.7 L308.4,536.0 L311.9,535.3 L315.4,534.5 L318.9,533.8 L322.4,533.0 L325.8,532.2 L329.3,531.4 L332.8,530.7 L336.3,529.9 L339.8,529.0 L343.3,528.2 L346.8,527.4 L350.3,526.5 L353.8,525.7 L357.3,524.8 L360.8,523.9 L364.3,523.0 L367.7,522.1 L371.2,521.1 L374.7,520.2 L378.2,519.2 L381.7,518.2 L385.2,517.2 L388.7,516.2 L392.2,515.1 L395.7,514.0 L399.2,512.9 L402.7,511.8 L406.1,510.6 L409.6,509.5 L413.1,508.2 L416.6,507.0 L420.1,505.7 L423.6,504.4 L427.1,503.1 L430.6,501.7 L434.1,500.3 L437.6,498.8 L441.1,497.3 L444.6,495.8 L448.0,494.2 L451.5,492.6 L455.0,490.9 L458.5,489.2 L462.0,487.4 L465.5,485.5 L469.0,483.6 L472.5,481.6 L476.0,479.6 L479.5,477.5 L483.0,475.3 L486.4,473.1 L489.9,470.7 L493.4,468.3 L496.9,465.8 L500.4,463.2 L503.9,460.6 L507.4,457.8 L510.9,454.9 L514.4,451.9 L517.9,448.8 L521.4,445.5 L524.8,442.2 L528.3,438.7 L531.8,435.1 L535.3,431.3 L538.8,427.4 L542.3,423.3 L545.8,419.1 L549.3,414.7 L552.8,410.1 L556.3,405.3 L559.8,400.4 L563.3,395.2 L566.7,389.8 L570.2,384.2 L573.7,378.4 L577.2,372.3 L580.7,366.0 L584.2,359.5 L587.7,352.6 L591.2,345.5 L594.7,338.0 L598.2,330.3 L601.7,322.3 L605.1,313.9 L608.6,305.2 L612.1,296.1 L615.6,286.6 L619.1,276.8 L622.6,266.5 L626.1,255.9 L629.6,244.8 L633.1,233.2 L636.6,221.2 L640.1,208.7 L643.6,195.8 L647.0,182.2 L650.5,168.2 L654.0,153.6 L657.5,138.4 L661.0,122.7 L664.5,106.3" stroke="#ff0000" stroke-width="3.2"/>
<path d="M105.9,566.5 L109.4,565.7 L112.9,564.8 L116.4,564.0 L119.9,563.1 L123.4,562.3 L126.8,561.4 L130.3,560.6 L133.8,559.7 L137.3,558.8 L140.8,558.0 L144.3,557.1 L147.8,556.2 L151.3,555.3 L154.8,554.5 L158.3,553.6 L161.8,552.7 L165.3,551.9 L168.7,551.0 L172.2,550.1 L175.7,549.3 L179.2,548.4 L182.7,547.5 L186.2,546.7 L189.7,545.8 L193.2,544.9 L196.7,544.1 L200.2,543.2 L203.7,542.4 L207.1,541.5 L210.6,540.6 L214.1,539.8 L217.6,538.9 L221.1,538.0 L224.6,537.2 L228.1,536.3 L231.6,535.4 L235.1,534.6 L238.6,533.7 L242.1,532.8 L245.5,531.9 L249.0,531.1 L252.5,530.2 L256.0,529.3 L259.5,528.4 L263.0,527.5 L266.5,526.6 L270.0,525.7 L273.5,524.8 L277.0,523.9 L280.5,523.0 L284.0,522.1 L287.4,521.2 L290.9,520.3 L294.4,519.3 L297.9,518.4 L301.4,517.5 L304.9,516.5 L308.4,515.5 L311.9,514.6 L315.4,513.6 L318.9,512.6 L322.4,511.6 L325.8,510.6 L329.3,509.6 L332.8,508.6 L336.3,507.6 L339.8,506.5 L343.3,505.5 L346.8,504.4 L350.3,503.3 L353.8,502.2 L357.3,501.1 L360.8,500.0 L364.3,498.9 L367.7,497.7 L371.2,496.6 L374.7,495.4 L378.2,494.2 L381.7,493.0 L385.2,491.7 L388.7,490.5 L392.2,489.2 L395.7,487.9 L399.2,486.6 L402.7,485.2 L406.1,483.9 L409.6,482.5 L413.1,481.1 L416.6,479.6 L420.1,478.2 L423.6,476.7 L427.1,475.1 L430.6,473.6 L434.1,472.0 L437.6,470.4 L441.1,468.7 L444.6,467.0 L448.0,465.3 L451.5,463.5 L455.0,461.7 L458.5,459.8 L462.0,457.9 L465.5,455.9 L469.0,453.9 L472.5,451.8 L476.0,449.7 L479.5,447.6 L483.0,445.3 L486.4,443.0 L489.9,440.7 L493.4,438.2 L496.9,435.7 L500.4,433.2 L503.9,430.5 L507.4,427.8 L510.9,424.9 L514.4,422.0 L517.9,419.0 L521.4,415.9 L524.8,412.7 L528.3,409.4 L531.8,406.0 L535.3,402.4 L538.8,398.7 L542.3,394.9 L545.8,391.0 L549.3,386.9 L552.8,382.7 L556.3,378.3 L559.8,373.8 L563.3,369.1 L566.7,364.2 L570.2,359.1 L573.7,353.8 L577.2,348.3 L580.7,342.7 L584.2,336.7 L587.7,330.6 L591.2,324.2 L594.7,317.6 L598.2,310.7 L601.7,303.5 L605.1,296.0 L608.6,288.2 L612.1,280.1 L615.6,271.7 L619.1,262.9 L622.6,253.8 L626.1,244.3 L629.6,234.4 L633.1,224.0 L636.6,213.3 L640.1,202.1 L643.6,190.5 L647.0,178.4 L650.5,165.7 L654.0,152.6 L657.5,138.9 L661.0,124.6 L664.5,109.8" stroke="#0000ff" stroke-width="3.2"/>
</g>
<rect x="432.8" y="251.2" width="161.4" height="207.2" fill="none" stroke="#062258" stroke-width="3.4" stroke-linejoin="round"/>
<text x="448.6" y="282.6" font-size="22" letter-spacing="0.15" style="stroke-width:0.3px">Bereich der</text>
<text x="448.6" y="312.4" font-size="22" letter-spacing="0.1" style="stroke-width:0.3px">Bergfesten</text>
</svg>
</body></html>
